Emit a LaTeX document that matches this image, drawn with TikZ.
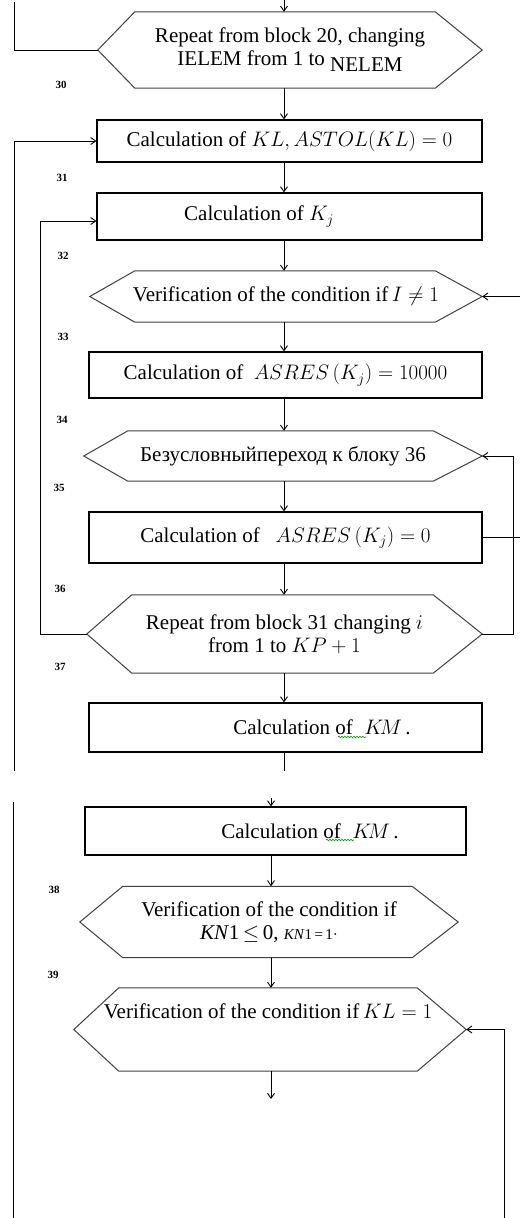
\RequirePackage{fix-cm}
\documentclass[tikz,border=0pt]{standalone}
\usepackage{fontspec}
\setmainfont{Liberation Serif}
\usetikzlibrary{arrows.meta,decorations.pathmorphing}

% outline of a hexagonal block: node name, left chamfer, right chamfer
\newcommand\hexoutline[3]{%
  \draw[hexedge] (#1.west) -- ([xshift=#2]#1.north west) -- ([xshift=-#3]#1.north east)
    -- (#1.east) -- ([xshift=-#3]#1.south east) -- ([xshift=#2]#1.south west) -- cycle;}

\begin{document}
\begin{tikzpicture}[x=1pt,y=-1pt,
  txt/.style={font=\fontsize{21}{23}\selectfont, align=center, inner sep=0pt},
  box/.style={draw, line width=1.1pt, inner sep=0pt, txt},
  hexa/.style={draw=none, inner sep=0pt, txt},
  hexedge/.style={draw=black!75, line width=1pt, line join=miter},
  num/.style={font=\fontsize{11}{11}\selectfont\bfseries, inner sep=0pt},
  conn/.style={line width=0.9pt},
  arr/.style={conn, -{Straight Barb[length=5pt,width=7pt]}},
  squiggle/.style={draw=green!60!black, line width=0.6pt, decorate,
    decoration={snake, amplitude=0.8pt, segment length=3pt}}]

\fill[white] (0,0) rectangle (520,1218);
\useasboundingbox (0,0) rectangle (520,1218);

% ---------- upper part ----------
\node[hexa, minimum width=384pt, minimum height=76pt] (h30) at (290,50)
  {Repeat from block 20, changing\\ IELEM from 1 to \raisebox{-6pt}{NELEM}};
\hexoutline{h30}{37pt}{47pt}

\node[box, minimum width=385pt, minimum height=42pt] (r31) at (289.5,141)
  {Calculation of $KL, ASTOL(KL) = 0$};

\node[box, minimum width=385pt, minimum height=47pt] (r32) at (289.5,216.5) {};
\node[txt] (r32t) at (259,216.5) {Calculation of $K_j$};

\node[hexa, minimum width=392pt, minimum height=51pt] (h32) at (286,296.5)
  {Verification of the condition if\,$I \neq 1$};
\hexoutline{h32}{45pt}{47pt}

\node[box, minimum width=393pt, minimum height=46pt] (r33) at (285.5,375)
  {Calculation of\ \ $ASRES\left(K_j\right) = 10000$};

\node[hexa, minimum width=398pt, minimum height=50pt] (h34) at (283,456)
  {Безусловныйпереход к блоку 36};
\hexoutline{h34}{44pt}{49pt}

\node[box, minimum width=393pt, minimum height=51pt] (r35) at (285.5,537.5)
  {Calculation of\ \ \ $ASRES\left(K_j\right) = 0$};

\node[hexa, minimum width=395pt, minimum height=78pt] (h36) at (284.5,634)
  {Repeat from block 31 changing $i$\\ from 1 to $KP + 1$};
\hexoutline{h36}{45pt}{49pt}

\node[box, minimum width=393pt, minimum height=49pt] (r37) at (285.5,727.5) {};
\node[txt] (r37t) at (322,727.5) {Calculation of\hspace{0.55em}$K\!M$\,.};
\draw[squiggle] (338,737) -- (366,737);

% block numbers
\node[num] (n30) at (61,85) {30};
\node[num] (n31) at (62,178) {31};
\node[num] (n32) at (63,256) {32};
\node[num] (n33) at (63,337) {33};
\node[num] (n34) at (62,420) {34};
\node[num] (n35) at (59,488) {35};
\node[num] (n36) at (60,589) {36};
\node[num] (n37) at (60,667) {37};

% upper connectors
\coordinate (cx) at (284,0);
\coordinate (ttop) at (284,0);
\coordinate (tl) at (14,2);
\coordinate (lend) at (14,771);
\coordinate (ix) at (40,0);
\coordinate (rx) at (513,0);
\coordinate (redge) at (520,0);
\coordinate (cut) at (284,771);

\draw[arr] (ttop) -- (h30.north -| cx);
\draw[conn] (tl) |- (h30.west);
\draw[arr] (h30.south -| cx) -- (r31.north -| cx);
\draw[arr] (r31.south -| cx) -- (r32.north -| cx);
\draw[arr] (r32.south -| cx) -- (h32.north -| cx);
\draw[arr] (h32.south -| cx) -- (r33.north -| cx);
\draw[arr] (r33.south -| cx) -- (h34.north -| cx);
\draw[arr] (h34.south -| cx) -- (r35.north -| cx);
\draw[arr] (r35.south -| cx) -- (h36.north -| cx);
\draw[arr] (h36.south -| cx) -- (r37.north -| cx);
\draw[conn] (r37.south -| cx) -- (cut);

\draw[arr] (lend) |- (r31.west);
\draw[arr] (h36.west) -- (h36.west -| ix) |- ([yshift=-4.5pt]r32.west);
\draw[arr] (h32.east -| redge) -- (h32.east);
\draw[arr] (h36.east) -- (h36.east -| rx) |- (h34.east);
\draw[conn] (r35.east) -- (r35.east -| redge);

% ---------- lower part ----------
\node[box, minimum width=381pt, minimum height=48pt] (r37b) at (275.5,831) {};
\node[txt] (r37bt) at (310,831) {Calculation of\hspace{0.55em}$K\!M$\,.};
\draw[squiggle] (326,840) -- (354,840);

\node[hexa, minimum width=378pt, minimum height=71pt] (h38) at (269,922)
  {Verification of the condition if\\
   \textit{KN}1\,$\leq$\,0, {\fontsize{15}{15}\selectfont\textit{KN}1\,=\,1·}};
\hexoutline{h38}{43pt}{46pt}

\node[hexa, minimum width=392pt, minimum height=83pt] (h39) at (270,1029.5) {};
\hexoutline{h39}{45pt}{49pt}
\node[txt] (h39t) at (268,1011) {Verification of the condition if\,$KL = 1$};

\node[num] (n38) at (54,890) {38};
\node[num] (n39) at (53,975) {39};

\coordinate (cxl) at (271,0);
\coordinate (ttop2) at (271,798);
\coordinate (lt2) at (13,802);
\coordinate (lb2) at (13,1218);
\coordinate (rb2) at (504,1218);
\coordinate (bend) at (271,1099);

\draw[arr] (ttop2) -- (r37b.north -| cxl);
\draw[arr] (r37b.south -| cxl) -- (h38.north -| cxl);
\draw[arr] (h38.south -| cxl) -- (h39.north -| cxl);
\draw[arr] (h39.south -| cxl) -- (bend);
\draw[conn] (lt2) -- (lb2);
\draw[arr] (rb2) |- (h39.east);

\end{tikzpicture}
\end{document}
